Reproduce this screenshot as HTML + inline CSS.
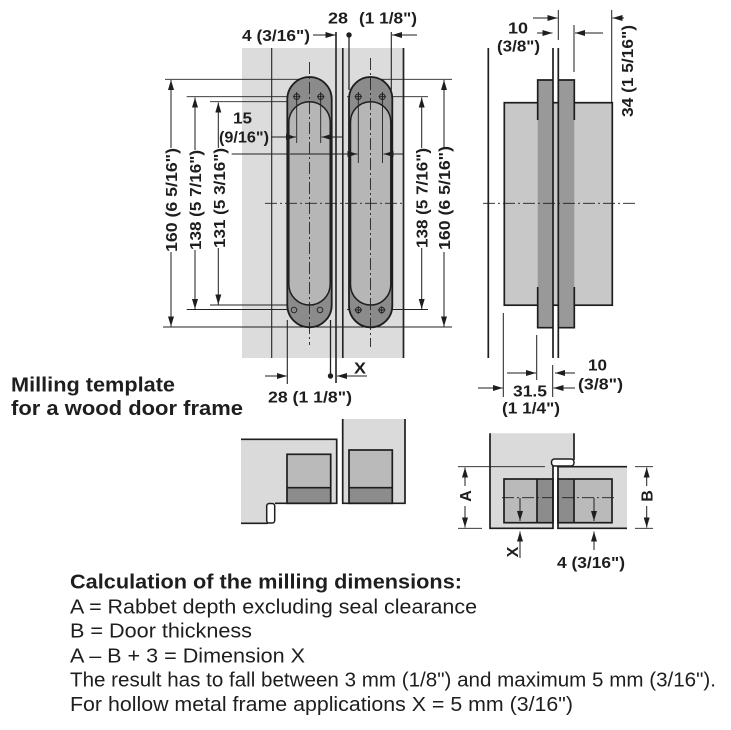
<!DOCTYPE html>
<html><head><meta charset="utf-8"><style>
html,body{margin:0;padding:0;background:#fff;}
svg{display:block;}
text{font-family:"Liberation Sans",Arial,sans-serif;fill:#1e1e1e;}
.b{font-weight:bold;}
</style></head><body>
<svg width="731" height="730" viewBox="0 0 731 730" xmlns="http://www.w3.org/2000/svg">
<defs>
<marker id="a" viewBox="0 0 10 6" refX="10" refY="3" markerWidth="10" markerHeight="6" markerUnits="userSpaceOnUse" orient="auto">
<path d="M0,0 L10,3 L0,6 Z" fill="#1e1e1e"/>
</marker>
</defs>
<rect width="731" height="730" fill="#fff"/>

<!-- ===== TOP-LEFT FRONT VIEW ===== -->
<rect x="242" y="48" width="162" height="310" fill="#dcdcdc"/>
<g stroke="#222" fill="none">
<line x1="271.7" y1="48" x2="271.7" y2="358" stroke-width="1.1"/>
<line x1="403.5" y1="48" x2="403.5" y2="358" stroke-width="1.7"/>
<line x1="336" y1="32" x2="336" y2="383" stroke-width="1.6"/>
<line x1="342.8" y1="48" x2="342.8" y2="358" stroke-width="1.6"/>
<!-- extension lines -->
<line x1="165" y1="79.3" x2="309" y2="79.3" stroke-width="0.9"/>
<line x1="370" y1="79.3" x2="452" y2="79.3" stroke-width="0.9"/>
<line x1="163" y1="327" x2="452" y2="327" stroke-width="0.9"/>
<line x1="186.7" y1="96.7" x2="297" y2="96.7" stroke-width="0.9"/>
<line x1="347" y1="96.7" x2="428" y2="96.7" stroke-width="0.9"/>
<line x1="210" y1="101.7" x2="290" y2="101.7" stroke-width="0.9"/>
<line x1="186.7" y1="309.5" x2="297" y2="309.5" stroke-width="0.9"/>
<line x1="347" y1="309.5" x2="428" y2="309.5" stroke-width="0.9"/>
<line x1="210" y1="305" x2="290" y2="305" stroke-width="0.9"/>
<line x1="231.7" y1="154" x2="290" y2="154" stroke-width="0.9"/>
</g>

<!-- hinges -->
<rect x="287.3" y="77" width="44.4" height="250.3" rx="22.2" fill="#8b8b8b" stroke="#1e1e1e" stroke-width="1.8"/>
<rect x="288.8" y="101.7" width="41.4" height="203.3" rx="20.7" fill="#b6b6b6" stroke="#1e1e1e" stroke-width="1.5"/>
<rect x="349" y="77" width="43.3" height="250.3" rx="21.7" fill="#8b8b8b" stroke="#1e1e1e" stroke-width="1.8"/>
<rect x="350.5" y="101.7" width="40.3" height="203.3" rx="20.2" fill="#b6b6b6" stroke="#1e1e1e" stroke-width="1.5"/>

<g stroke="#222" fill="none">
<!-- center lines -->
<line x1="309.5" y1="62" x2="309.5" y2="345" stroke-width="0.9" stroke-dasharray="12,3,2,3"/>
<line x1="370.5" y1="58" x2="370.5" y2="347" stroke-width="0.9" stroke-dasharray="12,3,2,3"/>
<line x1="265" y1="203.3" x2="402" y2="203.3" stroke-width="0.9" stroke-dasharray="12,3,2,3"/>
<!-- screw ext lines -->
<line x1="296.7" y1="92" x2="296.7" y2="143" stroke-width="0.9"/>
<line x1="320.7" y1="92" x2="320.7" y2="143" stroke-width="0.9"/>
<line x1="358.3" y1="92" x2="358.3" y2="163" stroke-width="0.9"/>
<line x1="382.5" y1="92" x2="382.5" y2="163" stroke-width="0.9"/>
<!-- hinge edge ext lines -->
<line x1="349" y1="35" x2="349" y2="90" stroke-width="1.3"/>
<line x1="391.3" y1="32" x2="391.3" y2="90" stroke-width="1.1"/>
<line x1="330.5" y1="320" x2="330.5" y2="376" stroke-width="1.3"/>
<line x1="287.3" y1="320" x2="287.3" y2="384" stroke-width="1.1"/>
</g>
<!-- screws -->
<g stroke="#1e1e1e" stroke-width="0.9" fill="none">
<circle cx="296.7" cy="96.7" r="2.8"/><circle cx="320.7" cy="96.7" r="2.8"/>
<circle cx="358.3" cy="96.7" r="2.8"/><circle cx="382.3" cy="96.7" r="2.8"/>
<circle cx="294" cy="310" r="2.8"/><circle cx="320" cy="310" r="2.8"/>
<circle cx="358.3" cy="310" r="2.8"/><circle cx="381.7" cy="310" r="2.8"/>
<path d="M293,96.7h7.4M296.7,93v7.4M317,96.7h7.4M320.7,93v7.4M354.6,96.7h7.4M358.3,93v7.4M378.6,96.7h7.4M382.3,93v7.4M354.6,310h7.4M358.3,306.3v7.4M378,310h7.4M381.7,306.3v7.4"/>
</g>

<!-- dimension arrows top-left -->
<g stroke="#1e1e1e" stroke-width="1" fill="none" marker-end="url(#a)">
<line x1="313" y1="35" x2="335.5" y2="35"/>
<line x1="417" y1="35" x2="392" y2="35"/>
<line x1="171" y1="148" x2="171" y2="80"/>
<line x1="171" y1="252" x2="171" y2="326.5"/>
<line x1="195" y1="150" x2="195" y2="97.5"/>
<line x1="195" y1="250" x2="195" y2="309"/>
<line x1="218.3" y1="148" x2="218.3" y2="102.5"/>
<line x1="218.3" y1="248" x2="218.3" y2="304.5"/>
<line x1="421.7" y1="148" x2="421.7" y2="97.5"/>
<line x1="421.7" y1="248" x2="421.7" y2="309"/>
<line x1="444" y1="148" x2="444" y2="80"/>
<line x1="444" y1="252" x2="444" y2="326.5"/>
<line x1="271" y1="137" x2="296" y2="137"/>
<line x1="342" y1="137" x2="321.5" y2="137"/>
<line x1="290" y1="154" x2="357.5" y2="154"/>
<line x1="404" y1="154" x2="383.5" y2="154"/>
<line x1="265" y1="376" x2="286.8" y2="376"/>
<line x1="367" y1="376" x2="337" y2="376"/>
</g>
<circle cx="349" cy="35" r="2.7" fill="#1e1e1e"/>
<circle cx="330.5" cy="376" r="2.7" fill="#1e1e1e"/>

<!-- labels top-left -->
<text class="b" x="242" y="41" font-size="16" textLength="68" lengthAdjust="spacingAndGlyphs">4 (3/16")</text>
<text class="b" x="328" y="23.5" font-size="16" textLength="20" lengthAdjust="spacingAndGlyphs">28</text>
<text class="b" x="359" y="23.5" font-size="16" textLength="58" lengthAdjust="spacingAndGlyphs">(1 1/8")</text>
<text class="b" x="233" y="123.5" font-size="16" textLength="19" lengthAdjust="spacingAndGlyphs">15</text>
<text class="b" x="219" y="142.5" font-size="16" textLength="50" lengthAdjust="spacingAndGlyphs">(9/16")</text>
<text class="b" x="354" y="373.5" font-size="16" textLength="12" lengthAdjust="spacingAndGlyphs">X</text>
<text class="b" x="268" y="402.5" font-size="16" textLength="84" lengthAdjust="spacingAndGlyphs">28 (1 1/8")</text>
<text class="b" font-size="16" text-anchor="middle" transform="translate(176.8,200) rotate(-90)" textLength="104" lengthAdjust="spacingAndGlyphs">160 (6 5/16")</text>
<text class="b" font-size="16" text-anchor="middle" transform="translate(200.8,200) rotate(-90)" textLength="100" lengthAdjust="spacingAndGlyphs">138 (5 7/16")</text>
<text class="b" font-size="16" text-anchor="middle" transform="translate(224.8,198) rotate(-90)" textLength="100" lengthAdjust="spacingAndGlyphs">131 (5 3/16")</text>
<text class="b" font-size="16" text-anchor="middle" transform="translate(427.3,198) rotate(-90)" textLength="100" lengthAdjust="spacingAndGlyphs">138 (5 7/16")</text>
<text class="b" font-size="16" text-anchor="middle" transform="translate(449.8,198) rotate(-90)" textLength="104" lengthAdjust="spacingAndGlyphs">160 (6 5/16")</text>

<!-- ===== RIGHT SIDE VIEW ===== -->
<rect x="504.3" y="102.7" width="108" height="202.5" fill="#c8c8c8" stroke="#1e1e1e" stroke-width="1.7"/>
<rect x="537.7" y="80" width="15.3" height="247.7" fill="#999"/>
<rect x="557.7" y="80" width="16.6" height="247.7" fill="#999"/>
<g stroke="#1e1e1e" fill="none" stroke-width="1.7">
<path d="M537.7,120 V80 H553 M537.7,287 V327.7 H553 M557.7,80 H574.3 V120 M557.7,327.7 H574.3 V287"/>
<line x1="488.3" y1="48" x2="488.3" y2="358"/>
<line x1="553" y1="48" x2="553" y2="358"/>
<line x1="558.3" y1="48" x2="558.3" y2="358"/>
<line x1="558.3" y1="10" x2="558.3" y2="40" stroke-width="1"/>
<line x1="574" y1="25" x2="574" y2="72" stroke-width="1"/>
<line x1="611.7" y1="10" x2="611.7" y2="102" stroke-width="1"/>
<line x1="503.3" y1="313" x2="503.3" y2="397" stroke-width="1"/>
<line x1="536.7" y1="335" x2="536.7" y2="380" stroke-width="1"/>
<line x1="552.7" y1="365" x2="552.7" y2="397" stroke-width="1"/>
<line x1="483" y1="203.3" x2="638" y2="203.3" stroke-width="0.9" stroke-dasharray="12,3,2,3"/>
</g>
<g stroke="#1e1e1e" stroke-width="1" fill="none" marker-end="url(#a)">
<line x1="533" y1="18" x2="557.5" y2="18"/>
<line x1="537" y1="33" x2="552.5" y2="33"/>
<line x1="603" y1="33" x2="575" y2="33"/>
<line x1="624" y1="18" x2="612.5" y2="18"/>
<line x1="478" y1="388" x2="502.8" y2="388"/>
<line x1="507" y1="373" x2="536" y2="373"/>
<line x1="575" y1="373" x2="555" y2="373"/>
<line x1="575" y1="388" x2="553.5" y2="388"/>
</g>
<text class="b" x="508" y="33.5" font-size="16" textLength="20" lengthAdjust="spacingAndGlyphs">10</text>
<text class="b" x="497" y="51.5" font-size="16" textLength="43" lengthAdjust="spacingAndGlyphs">(3/8")</text>
<text class="b" font-size="16" text-anchor="middle" transform="translate(632.8,71) rotate(-90)" textLength="92" lengthAdjust="spacingAndGlyphs">34 (1 5/16")</text>
<text class="b" x="588" y="370.5" font-size="16" textLength="19" lengthAdjust="spacingAndGlyphs">10</text>
<text class="b" x="578" y="389.5" font-size="16" textLength="45" lengthAdjust="spacingAndGlyphs">(3/8")</text>
<text class="b" x="513" y="396.5" font-size="16" textLength="34" lengthAdjust="spacingAndGlyphs">31.5</text>
<text class="b" x="502" y="413.5" font-size="16" textLength="58" lengthAdjust="spacingAndGlyphs">(1 1/4")</text>

<!-- ===== MILLING TEMPLATE TITLE ===== -->
<text class="b" x="11" y="391.5" font-size="20" textLength="164" lengthAdjust="spacingAndGlyphs">Milling template</text>
<text class="b" x="11" y="415" font-size="20" textLength="232" lengthAdjust="spacingAndGlyphs">for a wood door frame</text>

<!-- ===== BOTTOM-LEFT MILLING ===== -->
<path d="M241,439.3 H336.7 V503.3 H275 V523.3 H241 Z" fill="#dadada"/>
<rect x="342.7" y="419" width="62.3" height="84.3" fill="#dadada"/>
<rect x="287" y="454.3" width="43.7" height="33.4" fill="#bababa"/>
<rect x="287" y="487.7" width="43.7" height="15.6" fill="#8c8c8c"/>
<rect x="349" y="450" width="43.3" height="37.7" fill="#bababa"/>
<rect x="349" y="487.7" width="43.3" height="15.6" fill="#8c8c8c"/>
<g stroke="#1e1e1e" fill="none" stroke-width="1.7">
<path d="M241,439.3 H336.7 V503.3 H275"/>
<path d="M241,523.3 H268"/>
<rect x="287" y="454.3" width="43.7" height="49"/>
<line x1="287" y1="487.7" x2="330.7" y2="487.7"/>
<path d="M342.7,419 V503.3 H405 V419"/>
<rect x="349" y="450" width="43.3" height="53.3"/>
<line x1="349" y1="487.7" x2="392.3" y2="487.7"/>
</g>
<rect x="266.7" y="503.5" width="8" height="19.5" rx="2.5" fill="#fff" stroke="#1e1e1e" stroke-width="1.5"/>

<!-- ===== BOTTOM-RIGHT SECTION ===== -->
<path d="M490,433.3 H574 V460 H553 V528.3 H490 Z" fill="#dadada"/>
<rect x="558" y="466.7" width="69" height="61.6" fill="#dadada"/>
<rect x="504" y="479" width="49" height="43.7" fill="#bababa"/>
<rect x="537" y="479" width="16" height="43.7" fill="#8c8c8c"/>
<rect x="558" y="479" width="54" height="43.7" fill="#bababa"/>
<rect x="558" y="479" width="16" height="43.7" fill="#8c8c8c"/>
<g stroke="#1e1e1e" fill="none" stroke-width="1.7">
<path d="M490,433.3 V528.3 H553 V465"/>
<path d="M574,433.3 V460"/>
<path d="M627,466.7 H558 V528.3 H627"/>
<rect x="504" y="479" width="49" height="43.7"/>
<line x1="537" y1="479" x2="537" y2="522.7"/>
<rect x="558" y="479" width="54" height="43.7"/>
<line x1="574" y1="479" x2="574" y2="522.7"/>
</g>
<rect x="551.5" y="459" width="22.5" height="7" rx="3" fill="#fff" stroke="#1e1e1e" stroke-width="1.5"/>
<g stroke="#1e1e1e" fill="none" stroke-width="0.9">
<line x1="502" y1="497.7" x2="616" y2="497.7" stroke-dasharray="12,3,2,3"/>
<line x1="458" y1="466.7" x2="545" y2="466.7"/>
<line x1="458" y1="528.3" x2="482" y2="528.3"/>
<line x1="635" y1="466.7" x2="653" y2="466.7"/>
<line x1="635" y1="528.3" x2="653" y2="528.3"/>
</g>
<g stroke="#1e1e1e" stroke-width="1" fill="none" marker-end="url(#a)">
<line x1="465" y1="486" x2="465" y2="467.5"/>
<line x1="465" y1="506" x2="465" y2="527.5"/>
<line x1="646.7" y1="486" x2="646.7" y2="467.5"/>
<line x1="646.7" y1="506" x2="646.7" y2="527.5"/>
<line x1="520" y1="498" x2="520" y2="521"/>
<line x1="520" y1="558" x2="520" y2="531.5"/>
<line x1="594" y1="498" x2="594" y2="521"/>
<line x1="594" y1="550" x2="594" y2="531.5"/>
</g>
<text class="b" font-size="16" text-anchor="middle" transform="translate(470.8,496) rotate(-90)">A</text>
<text class="b" font-size="16" text-anchor="middle" transform="translate(652.3,496) rotate(-90)">B</text>
<text class="b" font-size="16" text-anchor="middle" transform="translate(517.8,552) rotate(-90)">X</text>
<text class="b" x="557" y="568" font-size="16" textLength="68" lengthAdjust="spacingAndGlyphs">4 (3/16")</text>

<!-- ===== TEXT BLOCK ===== -->
<text class="b" x="70" y="588.3" font-size="20" textLength="392" lengthAdjust="spacingAndGlyphs">Calculation of the milling dimensions:</text>
<text x="70" y="613.3" font-size="20" textLength="407" lengthAdjust="spacingAndGlyphs">A = Rabbet depth excluding seal clearance</text>
<text x="70" y="637.7" font-size="20" textLength="182" lengthAdjust="spacingAndGlyphs">B = Door thickness</text>
<text x="70" y="662.3" font-size="20" textLength="235" lengthAdjust="spacingAndGlyphs">A – B + 3 = Dimension X</text>
<text x="70" y="686.7" font-size="20" textLength="646" lengthAdjust="spacingAndGlyphs">The result has to fall between 3 mm (1/8") and maximum 5 mm (3/16").</text>
<text x="70" y="711" font-size="20" textLength="503" lengthAdjust="spacingAndGlyphs">For hollow metal frame applications X = 5 mm (3/16")</text>
</svg>
</body></html>
